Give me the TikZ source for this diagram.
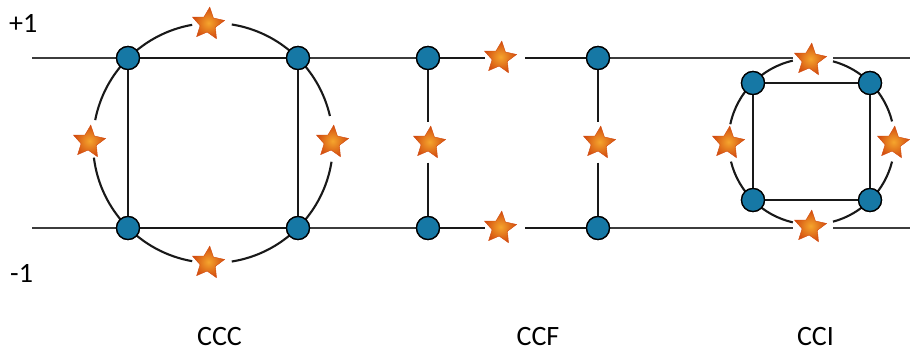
\documentclass[tikz,border=0pt]{standalone}
\usepackage{fontspec}
\setmainfont{Carlito}
\usetikzlibrary{shapes.geometric}
\definecolor{siteblue}{RGB}{22,120,165}
\definecolor{starin}{RGB}{245,165,45}
\definecolor{starout}{RGB}{210,75,15}
\definecolor{axisgray}{RGB}{60,60,60}
\definecolor{bondblack}{RGB}{25,25,25}
\tikzset{
  site/.style={circle, draw=black, line width=1.3pt, fill=siteblue, minimum size=23pt, inner sep=0pt},
  defect/.style={star, star points=5, star point ratio=2.1, minimum size=34pt, inner sep=0pt,
    rotate=-6, shading=radial, inner color=starin, outer color=starout, draw=starout, line width=0.4pt},
  gap/.style={circle, minimum size=40pt, inner sep=0pt},
  axis/.style={draw=axisgray, line width=1.1pt},
  bond/.style={draw=bondblack, line width=2.1pt},
  ring/.style={draw=bondblack, line width=2.1pt},
  lab/.style={font=\fontsize{28}{32}\selectfont, inner sep=0pt}
}
\begin{document}
\begin{tikzpicture}[x=1pt, y=-1pt]
\useasboundingbox (0,0) rectangle (910,351);

% level labels
\node[lab, anchor=base west] (plus) at (9,32) {+1};
\node[lab, anchor=base west] (minus) at (10,282) {-1};
\node[lab, anchor=base] (tccc) at (219.5,345) {CCC};
\node[lab, anchor=base] (tccf) at (538,345) {CCF};
\node[lab, anchor=base] (tcci) at (815.5,345) {CCI};

% free ends of the two levels
\coordinate (lt) at (32,58);
\coordinate (rt) at (910,58);
\coordinate (lb) at (32,228);
\coordinate (rb) at (910,228);

% gaps left around the defects on straight lines
\node[gap] (gFt) at (505,58) {};
\node[gap] (gFb) at (505,228) {};
\node[gap] (gFl) at (428,142.5) {};
\node[gap] (gFr) at (598,142.5) {};
\node[gap] (gIt) at (813,58) {};
\node[gap] (gIb) at (813,228) {};

% the +1 and -1 levels
\draw[axis] (lt) -- (gFt);
\draw[axis] (gFt) -- (gIt);
\draw[axis] (gIt) -- (rt);
\draw[axis] (lb) -- (gFb);
\draw[axis] (gFb) -- (gIb);
\draw[axis] (gIb) -- (rb);

% CCC: ring through the four sites
\coordinate (cC) at (213,143);
\foreach \a/\b in {13/81, 100/169, 187/260, 279/351}
  \draw[ring] ([shift={(\a:120 and -120)}]cC) arc[start angle=-\a, end angle=-\b, radius=120];

% CCI: ring around the four sites
\coordinate (cI) at (811.5,141.5);
\foreach \a/\b in {14/75, 103/168, 194/257, 285/346}
  \draw[ring] ([shift={(\a:83 and -83)}]cI) arc[start angle=-\a, end angle=-\b, radius=83];

% sites
\node[site] (C1) at (128,58) {};
\node[site] (C2) at (298,58) {};
\node[site] (C3) at (128,228) {};
\node[site] (C4) at (298,228) {};
\node[site] (F1) at (428,58) {};
\node[site] (F2) at (598,58) {};
\node[site] (F3) at (428,228) {};
\node[site] (F4) at (598,228) {};
\node[site] (I1) at (753,83) {};
\node[site] (I2) at (870,83) {};
\node[site] (I3) at (753,200) {};
\node[site] (I4) at (870,200) {};

% bonds
\draw[bond] (C1) -- (C2);
\draw[bond] (C2) -- (C4);
\draw[bond] (C4) -- (C3);
\draw[bond] (C3) -- (C1);
\draw[bond] (F1) -- (gFt);
\draw[bond] (gFt) -- (F2);
\draw[bond] (F3) -- (gFb);
\draw[bond] (gFb) -- (F4);
\draw[bond] (F1) -- (gFl);
\draw[bond] (gFl) -- (F3);
\draw[bond] (F2) -- (gFr);
\draw[bond] (gFr) -- (F4);
\draw[bond] (I1) -- (I2);
\draw[bond] (I2) -- (I4);
\draw[bond] (I4) -- (I3);
\draw[bond] (I3) -- (I1);

% redraw sites above the bonds
\foreach \n in {C1,C2,C3,C4,F1,F2,F3,F4,I1,I2,I3,I4}
  \node[site] at (\n) {};

% defects
\node[defect] (sC1) at (208,24) {};
\node[defect] (sC2) at (89,142) {};
\node[defect] (sC3) at (332,142) {};
\node[defect] (sC4) at (208,263) {};
\node[defect] (sF1) at (500,58) {};
\node[defect] (sF2) at (500,228) {};
\node[defect] (sF3) at (429,143) {};
\node[defect] (sF4) at (599,143) {};
\node[defect] (sI1) at (810,60) {};
\node[defect] (sI2) at (810,227) {};
\node[defect] (sI3) at (728,143) {};
\node[defect] (sI4) at (893,143) {};
\end{tikzpicture}
\end{document}
